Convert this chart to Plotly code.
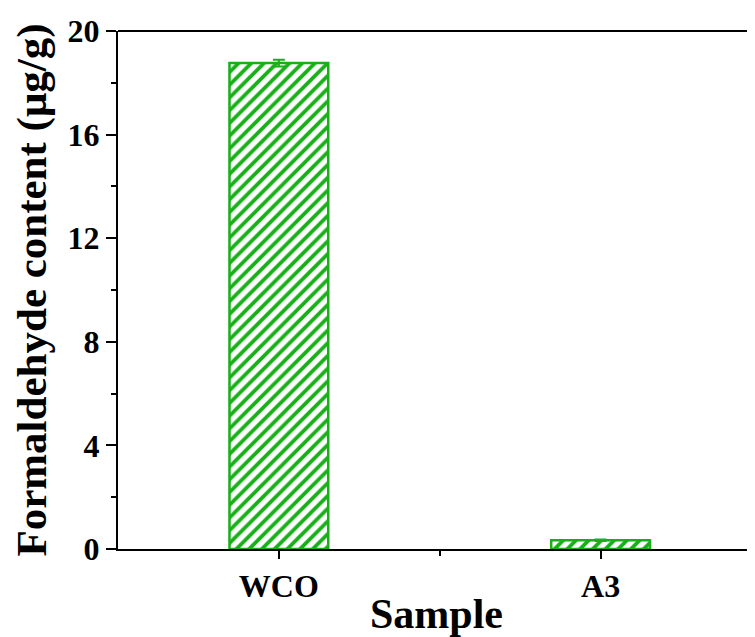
import plotly.graph_objects as go

categories = ["WCO", "A3"]
values = [18.76, 0.34]
errors = [0.13, 0.03]
positions = [1, 2]
y_ticks = [0, 4, 8, 12, 16, 20]
y_minor_ticks = [2, 6, 10, 14, 18]

green = "#17b017"
font_family = "Liberation Serif, Times New Roman, serif"

fig = go.Figure()
fig.add_trace(go.Bar(
    x=positions,
    y=values,
    width=0.307,
    marker=dict(
        color="white",
        line=dict(color=green, width=2.5),
        pattern=dict(shape="/", fgcolor=green, bgcolor="white", size=9,
                     solidity=0.42, fgopacity=1),
    ),
    error_y=dict(type="data", array=errors, color=green, thickness=2, width=6),
    showlegend=False,
))

fig.update_layout(
    width=747, height=629,
    margin=dict(l=110, r=0, t=23, b=88),
    plot_bgcolor="white",
    paper_bgcolor="white",
    font=dict(family=font_family, color="black"),
    xaxis=dict(
        range=[0.5, 2.48],
        tickvals=positions,
        ticktext=categories,
        showline=True, linecolor="black", linewidth=2,
        ticks="outside", ticklen=8, tickwidth=2, tickcolor="black",
        minor=dict(tickvals=[1.5], ticks="outside", ticklen=5, tickwidth=2, tickcolor="black"),
        tickfont=dict(size=32, family=font_family, weight="bold"),
        title=dict(text="<b>Sample</b>", font=dict(size=42, family=font_family), standoff=4),
        showgrid=False, zeroline=False, fixedrange=True,
    ),
    yaxis=dict(
        range=[0, 20],
        tickvals=y_ticks,
        showline=True, linecolor="black", linewidth=2,
        ticks="outside", ticklen=10, tickwidth=2, tickcolor="black",
        minor=dict(tickvals=y_minor_ticks, ticks="outside", ticklen=5, tickwidth=2, tickcolor="black"),
        tickfont=dict(size=32, family=font_family, weight="bold"),
        title=dict(text="<b>Formaldehyde content (μg/g)</b>", font=dict(size=43, family=font_family), standoff=10),
        showgrid=False, zeroline=False, fixedrange=True,
    ),
    shapes=[dict(type="line", xref="paper", yref="paper", x0=0, x1=1, y0=1, y1=1,
                 line=dict(color="black", width=2))],
)

fig.write_html("out.html")
